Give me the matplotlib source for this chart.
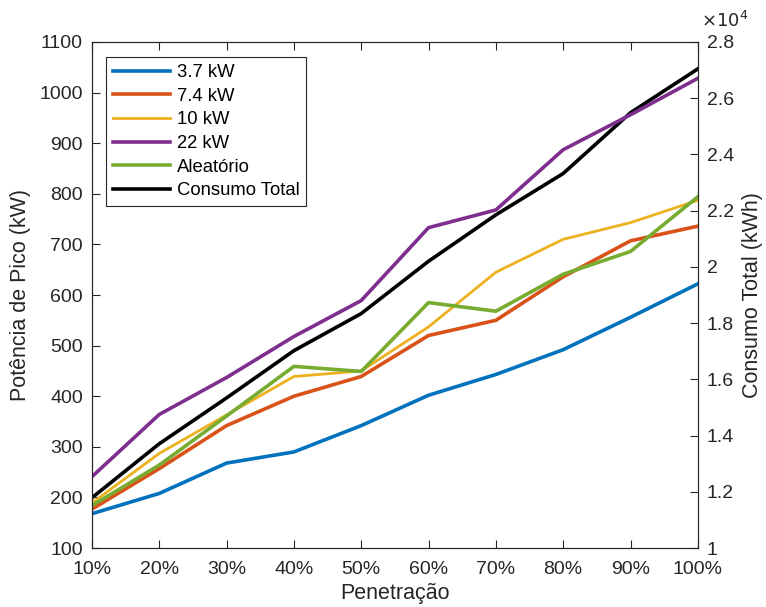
import matplotlib.pyplot as plt
from matplotlib.ticker import FuncFormatter

plt.rcParams['font.family'] = ['Liberation Sans', 'DejaVu Sans']

penetracao = [10, 20, 30, 40, 50, 60, 70, 80, 90, 100]
p_3_7 = [168, 208, 268, 290, 342, 402, 443, 492, 556, 622]
p_7_4 = [177, 257, 342, 400, 439, 520, 550, 636, 707, 736]
p_10 = [189, 287, 363, 439, 450, 537, 645, 710, 743, 787]
p_22 = [241, 364, 437, 518, 589, 733, 768, 887, 956, 1028]
aleatorio = [184, 264, 361, 459, 449, 585, 568, 641, 686, 794]
consumo_total = [11790, 13710, 15340, 17020, 18340, 20200, 21850, 23320, 25480, 27040]

x_labels = ['%d%%' % p for p in penetracao]
dark = '#262626'

fig = plt.figure(figsize=(7.66, 6.07), dpi=100)
ax = fig.add_axes([0.120, 0.097, 0.791, 0.834])
ax2 = ax.twinx()

l1, = ax.plot(penetracao, p_3_7, color='#0072BD', lw=2.6, label='3.7 kW')
l2, = ax.plot(penetracao, p_7_4, color='#D95319', lw=2.6, label='7.4 kW')
l3, = ax.plot(penetracao, p_10, color='#EDB120', lw=2.0, label='10 kW')
l4, = ax.plot(penetracao, p_22, color='#7E2F8E', lw=2.6, label='22 kW')
l5, = ax.plot(penetracao, aleatorio, color='#77AC30', lw=2.6, label='Aleatório')
l6, = ax2.plot(penetracao, consumo_total, color='black', lw=2.6, label='Consumo Total')

ax.set_xlim(10, 100)
ax.set_ylim(100, 1100)
ax.set_yticks(range(100, 1101, 100))
ax.set_xticks(penetracao)
ax.set_xticklabels(x_labels)
ax2.set_ylim(10000, 28000)
ax2.set_yticks(range(10000, 28001, 2000))
ax2.yaxis.set_major_formatter(FuncFormatter(lambda v, p: '%g' % (v / 1e4)))

for a in (ax, ax2):
    for s in a.spines.values():
        s.set_color(dark)
        s.set_linewidth(0.8)
ax.tick_params(axis='x', direction='in', top=True, labelsize=14, colors=dark, length=6, pad=9)
ax.tick_params(axis='y', direction='in', labelsize=14, colors=dark, length=6, pad=6.5)
ax2.tick_params(axis='y', direction='in', labelsize=14, colors=dark, length=6, pad=6.5)

ax.set_xlabel('Penetração', fontsize=15.5, color=dark, labelpad=4)
ax.set_ylabel('Potência de Pico (kW)', fontsize=15.5, color=dark, labelpad=6)
ax2.set_ylabel('Consumo Total (kWh)', fontsize=15.5, color=dark, labelpad=6)
ax2.text(1.005, 1.022, r'$\times10^{4}$', transform=ax2.transAxes, fontsize=13,
         color=dark, ha='left', va='bottom')

leg = ax.legend(handles=[l1, l2, l3, l4, l5, l6], loc='upper left',
                bbox_to_anchor=(0.023, 0.970), borderaxespad=0, fontsize=13.3,
                handlelength=3.1, handletextpad=0.35, labelspacing=0.36,
                borderpad=0.38, fancybox=False, framealpha=1)
leg.get_frame().set_edgecolor(dark)
leg.get_frame().set_linewidth(0.8)
ax.set_zorder(ax2.get_zorder() + 1)
ax.patch.set_visible(False)

fig.savefig('out.png', dpi=100)
